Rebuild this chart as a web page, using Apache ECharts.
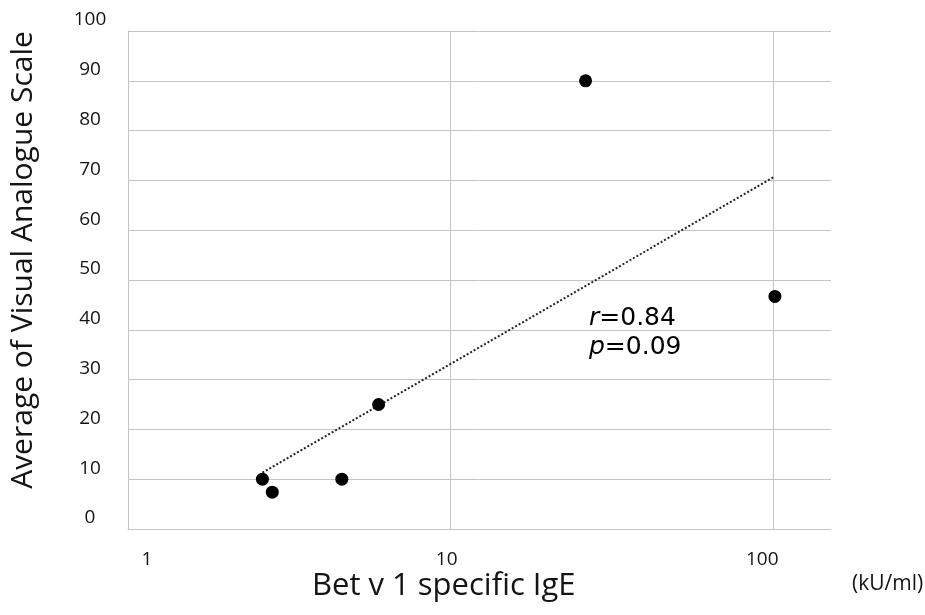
<!DOCTYPE html>
<html>
<head>
<meta charset="utf-8">
<script src="https://cdn.jsdelivr.net/npm/echarts@6/dist/echarts.min.js"></script>
<style>
html,body{margin:0;padding:0;background:#fff;}
#chart{width:925px;height:615px;}
</style>
</head>
<body>
<div id="chart"></div>
<script>
// ---- data ----
const xValues = [2.61, 2.80, 4.60, 5.98, 26.2, 101.2];   // Bet v 1 specific IgE (kU/ml)
const yValues = [10, 7.4, 10, 25, 90, 46.7];              // Average VAS
const trendX = [2.61, 101.2];                             // dotted trend line ends
const trendY = [11.3, 70.8];
const xTickLabels = ['1', '10', '100'];
const yTickLabels = ['0','10','20','30','40','50','60','70','80','90','100'];
const xTitle = 'Bet v 1 specific IgE';
const yTitle = 'Average of Visual Analogue Scale';
const unitText = '(kU/ml)';
const rText = '0.84';
const pText = '0.09';

const points = xValues.map((x, i) => [x, yValues[i]]);
const trend = trendX.map((x, i) => [x, trendY[i]]);

const FONT = '"Open Sans", "Liberation Sans", sans-serif';
const VFONT = '"DejaVu Sans", sans-serif';
const GRID = '#c4c4c4';
const TXT = '#141414';

const chart = echarts.init(document.getElementById('chart'), null, {renderer: 'canvas'});
chart.setOption({
  backgroundColor: '#ffffff',
  animation: false,
  grid: {left: 128, right: 94, top: 31, bottom: 86, containLabel: false},
  xAxis: {
    type: 'log', logBase: 10, min: 1, max: 151,
    axisLine: {show: true, lineStyle: {color: GRID, width: 1}},
    axisTick: {show: false},
    splitLine: {show: true, showMinLine: false, showMaxLine: false, lineStyle: {color: GRID, width: 1}},
    axisLabel: {
      show: true, margin: 21, showMaxLabel: false,
      fontFamily: FONT, fontSize: 19, color: TXT,
      formatter: function (v) {
        const s = String(Math.round(v));
        const idx = xTickLabels.indexOf(s);
        if (Math.abs(v - Math.round(v)) > 1e-6 || idx < 0) return '';
        return '{t' + idx + '|' + xTickLabels[idx] + '}';
      },
      rich: {
        t0: {fontFamily: FONT, fontSize: 19, color: TXT, padding: [0, 0, 0, 38]},
        t1: {fontFamily: FONT, fontSize: 19, color: TXT, padding: [0, 8, 0, 0]},
        t2: {fontFamily: FONT, fontSize: 19, color: TXT, padding: [0, 22, 0, 0]}
      }
    }
  },
  yAxis: {
    type: 'value', min: 0, max: 100, interval: 10,
    axisLine: {show: true, lineStyle: {color: GRID, width: 1}},
    axisTick: {show: false},
    splitLine: {show: true, lineStyle: {color: GRID, width: 1}},
    axisLabel: {
      margin: 38, align: 'center', verticalAlign: 'bottom', lineHeight: 22,
      fontFamily: FONT, fontSize: 19, color: TXT,
      formatter: function (v) {
        const i = Math.round(v / 10);
        return yTickLabels[i] !== undefined ? yTickLabels[i] : '';
      }
    }
  },
  series: [
    {
      type: 'line', data: trend, symbol: 'none', silent: true,
      lineStyle: {color: '#222222', width: 2, type: [2, 2]},
      z: 2
    },
    {
      type: 'scatter', data: points, symbol: 'circle', symbolSize: 13,
      itemStyle: {color: '#000000', opacity: 1},
      z: 3
    }
  ],
  graphic: [
    {
      type: 'text', left: 312, top: 571,
      style: {text: xTitle, fontFamily: FONT, fontSize: 31, fill: TXT}
    },
    {
      type: 'text', x: 8, y: 260, rotation: Math.PI / 2,
      style: {text: yTitle, fontFamily: FONT, fontSize: 30, fill: TXT,
              align: 'center', verticalAlign: 'top'}
    },
    {
      type: 'text', left: 852, top: 574,
      style: {text: unitText, fontFamily: FONT, fontSize: 21, fill: TXT}
    },
    {
      type: 'text', x: 589, y: 318,
      style: {
        text: '{i|r}=' + rText,
        verticalAlign: 'middle',
        rich: {i: {fontFamily: VFONT, fontStyle: 'italic', fontSize: 25, fill: '#000'}},
        fontFamily: VFONT, fontSize: 25, fill: '#000'
      }
    },
    {
      type: 'text', x: 589, y: 347,
      style: {
        text: '{i|p}=' + pText,
        verticalAlign: 'middle',
        rich: {i: {fontFamily: VFONT, fontStyle: 'italic', fontSize: 25, fill: '#000'}},
        fontFamily: VFONT, fontSize: 25, fill: '#000'
      }
    }
  ]
});
</script>
</body>
</html>
